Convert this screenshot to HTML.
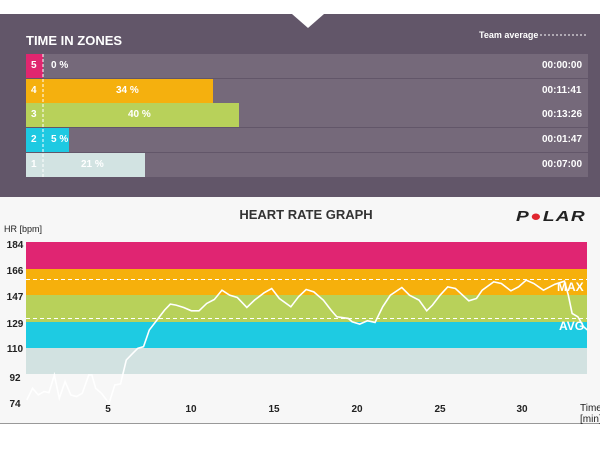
<!DOCTYPE html>
<html><head><style>
body{margin:0;width:600px;height:450px;background:#fff;font-family:"Liberation Sans",sans-serif;overflow:hidden;position:relative}
.panel{position:absolute;left:0;top:14px;width:600px;height:183px;background:#625669}
.row{position:absolute;left:26px;width:562px;height:24px;background:#75697a}
.bar{position:absolute;left:0;top:0;height:24px}
.t{position:absolute;color:#fff;font-weight:bold;font-size:10px;line-height:24px}
</style></head><body>
<div class="panel"></div>
<svg style="position:absolute;left:0;top:0" width="600" height="450">
<polygon points="292,14 324,14 308,28" fill="#fff"/>
</svg>
<div class="t" style="left:26px;top:27px;font-size:13px;line-height:28px">TIME IN ZONES</div>
<div class="t" style="left:479px;top:23px;font-size:9px">Team average</div>
<svg style="position:absolute;left:540px;top:34px" width="50" height="2"><line x1="0" y1="1" x2="48" y2="1" stroke="#fff" stroke-dasharray="2,2"/></svg>

<div class="row" style="top:54px"><div class="bar" style="width:17px;background:#e0266f"></div></div>
<div class="row" style="top:79px"><div class="bar" style="width:187px;background:#f5b00e"></div></div>
<div class="row" style="top:103px"><div class="bar" style="width:213px;background:#b8d15a"></div></div>
<div class="row" style="top:128px"><div class="bar" style="width:43px;background:#1ec9e2"></div></div>
<div class="row" style="top:153px"><div class="bar" style="width:119px;background:#d2e3e2"></div></div>
<svg style="position:absolute;left:42px;top:54px" width="3" height="124"><line x1="1" y1="0" x2="1" y2="124" stroke="#fff" stroke-dasharray="3,2"/></svg>

<div class="t" style="left:31px;top:54px">5</div><div class="t" style="left:51px;top:54px">0 %</div>
<div class="t" style="left:31px;top:79px">4</div><div class="t" style="left:116px;top:79px">34 %</div>
<div class="t" style="left:31px;top:103px">3</div><div class="t" style="left:128px;top:103px">40 %</div>
<div class="t" style="left:31px;top:128px">2</div><div class="t" style="left:51px;top:128px">5 %</div>
<div class="t" style="left:31px;top:153px">1</div><div class="t" style="left:81px;top:153px">21 %</div>
<div class="t" style="left:542px;top:54px">00:00:00</div>
<div class="t" style="left:542px;top:79px">00:11:41</div>
<div class="t" style="left:542px;top:103px">00:13:26</div>
<div class="t" style="left:542px;top:128px">00:01:47</div>
<div class="t" style="left:542px;top:153px">00:07:00</div>

<div style="position:absolute;left:0;top:197px;width:600px;height:226px;background:#f7f7f7;border-bottom:1px solid #999"></div>
<svg style="position:absolute;left:0;top:0" width="600" height="450" font-family="Liberation Sans, sans-serif">
<text x="306" y="219" font-size="13" font-weight="bold" fill="#333" text-anchor="middle">HEART RATE GRAPH</text>
<text x="516" y="221" font-size="15" font-weight="bold" font-style="italic" fill="#222" letter-spacing="1" textLength="70" lengthAdjust="spacingAndGlyphs">P<tspan fill="#e0262f">●</tspan>LAR</text>
<text x="4" y="232" font-size="9" fill="#222">HR [bpm]</text>
<rect x="26" y="242" width="561" height="27" fill="#e02572"/>
<rect x="26" y="269" width="561" height="26" fill="#f6b00c"/>
<rect x="26" y="295" width="561" height="27" fill="#b8d15a"/>
<rect x="26" y="322" width="561" height="26" fill="#1ecbe2"/>
<rect x="26" y="348" width="561" height="26" fill="#d2e2e1"/>
<line x1="26" y1="279.5" x2="587" y2="279.5" stroke="#fff" stroke-dasharray="4,3"/>
<line x1="26" y1="318.5" x2="587" y2="318.5" stroke="#fff" stroke-dasharray="4,3"/>
<g font-size="10" font-weight="bold" fill="#222" text-anchor="middle">
<text x="15" y="248">184</text><text x="15" y="274">166</text><text x="15" y="300">147</text><text x="15" y="327">129</text><text x="15" y="352">110</text><text x="15" y="381">92</text><text x="15" y="407">74</text>
<text x="108" y="412">5</text><text x="191" y="412">10</text><text x="274" y="412">15</text><text x="357" y="412">20</text><text x="440" y="412">25</text><text x="522" y="412">30</text>
</g>
<text x="580" y="411" font-size="10" fill="#222">Time</text>
<text x="580" y="422" font-size="10" fill="#222">[min]</text>
<g transform="matrix(0.3827,0,0,0.3325,0,200.4)">
<polyline vector-effect="non-scaling-stroke" fill="none" stroke="#fff" stroke-width="1.6" points="70,600 85,565 100,585 115,575 128,578 142,525 155,595 170,545 185,585 200,590 215,580 232,525 240,525 250,565 265,580 285,610 300,555 315,552 330,480 345,462 360,445 375,440 390,390 410,360 430,330 445,312 460,315 480,322 500,332 520,332 540,310 560,298 580,270 600,285 620,292 645,322 665,300 690,278 710,265 730,295 760,320 780,290 800,268 820,275 845,300 865,330 880,350 910,355 920,365 940,372 960,362 980,367 1000,320 1020,285 1050,262 1070,285 1095,300 1115,332 1130,315 1150,285 1170,260 1190,265 1225,302 1245,295 1260,270 1290,245 1310,250 1335,272 1355,260 1375,240 1395,250 1420,270 1450,252 1475,243 1485,285 1495,340 1510,350 1525,380 1535,390"/>
</g>
<text x="557" y="291" font-size="12" font-weight="bold" fill="#fff">MAX</text>
<text x="559" y="330" font-size="12" font-weight="bold" fill="#fff">AVG</text>
</svg>
</body></html>
